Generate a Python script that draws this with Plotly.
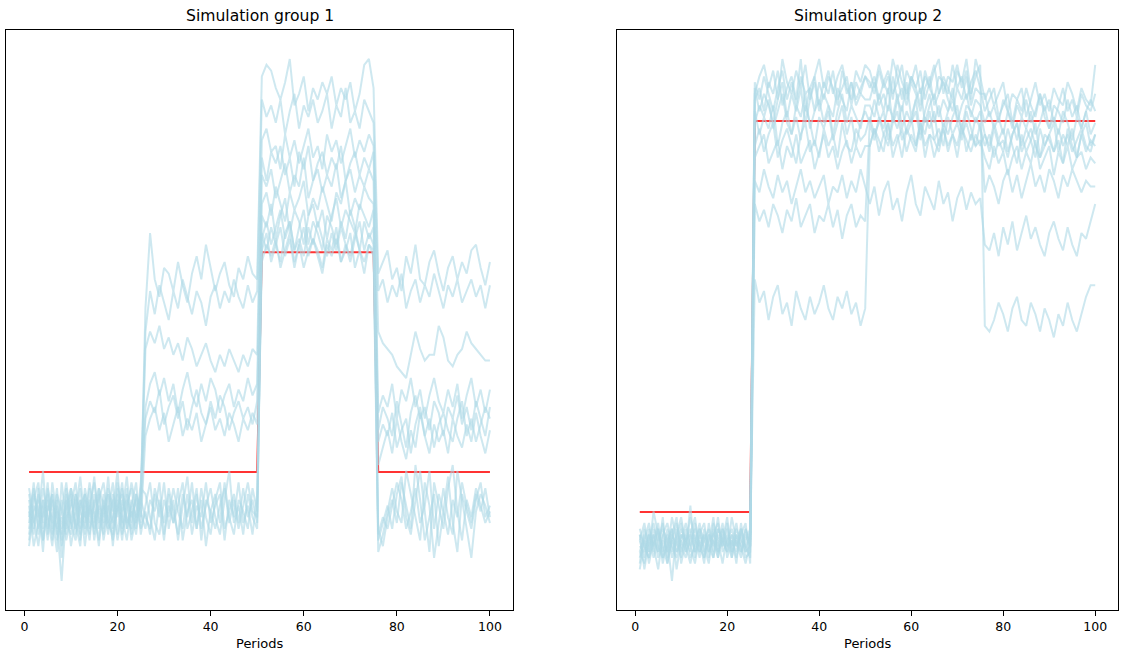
import plotly.graph_objects as go

periods = list(range(1, 101))

# ---------------- Simulation group 1 ----------------
g1_sim01 = [15, 22, 13, 19, 16, 11, 20, 17, 14, 21, 18, 12, 19, 16, 23, 15, 18, 13, 20, 17, 22, 14, 19, 16, 18,
            52, 65, 57, 54, 59, 58, 55, 60, 56, 53, 58, 61, 57, 63, 59, 55, 58, 60, 56, 54, 59, 57, 61, 58, 57,
            92, 94, 93, 90, 88, 91, 95, 87, 89, 92, 86, 90, 88, 91, 89, 92, 87, 90, 88, 91, 86, 89, 94, 95, 90,
            58, 60, 62, 57, 59, 55, 61, 58, 63, 57, 56, 60, 62, 58, 55, 59, 61, 57, 60, 58, 62, 63, 59, 56, 60]
g1_sim02 = [19, 14, 21, 12, 18, 16, 10, 22, 15, 13, 20, 17, 14, 21, 12, 18, 16, 20, 11, 19, 15, 21, 13, 17, 20,
            48, 55, 51, 56, 53, 50, 55, 52, 57, 54, 51, 55, 53, 49, 54, 56, 52, 55, 53, 57, 54, 52, 56, 53, 55,
            88, 85, 87, 84, 88, 82, 86, 89, 83, 87, 85, 88, 84, 86, 89, 83, 87, 85, 90, 84, 86, 83, 88, 86, 84,
            55, 57, 53, 56, 54, 58, 52, 55, 57, 53, 56, 54, 58, 55, 52, 56, 54, 57, 53, 55, 57, 54, 56, 52, 56]
g1_sim03 = [12, 18, 16, 24, 13, 19, 15, 5, 17, 20, 14, 19, 11, 18, 22, 16, 13, 20, 17, 24, 14, 18, 21, 15, 19,
            45, 48, 46, 49, 45, 47, 44, 46, 43, 47, 45, 42, 44, 46, 43, 41, 44, 42, 45, 43, 41, 44, 42, 45, 44,
            81, 83, 79, 80, 76, 82, 78, 81, 77, 80, 83, 78, 80, 76, 82, 79, 81, 77, 80, 83, 78, 81, 79, 82, 80,
            48, 46, 45, 44, 42, 41, 40, 44, 48, 45, 43, 44, 44, 49, 47, 43, 42, 44, 45, 48, 46, 45, 44, 43, 43]
g1_sim04 = [17, 13, 20, 15, 22, 12, 18, 14, 19, 11, 16, 21, 13, 18, 15, 20, 12, 17, 22, 13, 19, 16, 14, 20, 16,
            35, 39, 41, 37, 40, 36, 39, 34, 38, 41, 37, 35, 39, 36, 40, 38, 34, 37, 39, 35, 38, 36, 40, 37, 39,
            78, 74, 79, 77, 80, 75, 78, 73, 79, 76, 80, 74, 77, 79, 75, 78, 76, 80, 74, 77, 79, 75, 78, 76, 79,
            34, 37, 35, 39, 33, 38, 36, 40, 35, 38, 33, 37, 40, 36, 34, 38, 35, 39, 33, 37, 40, 35, 38, 34, 38]
g1_sim05 = [21, 16, 11, 18, 14, 20, 13, 17, 22, 15, 12, 18, 20, 14, 17, 11, 19, 15, 13, 21, 16, 12, 18, 14, 22,
            33, 36, 34, 38, 32, 35, 37, 33, 36, 31, 35, 38, 34, 32, 36, 33, 37, 35, 31, 34, 36, 33, 35, 32, 36,
            75, 73, 76, 71, 74, 77, 72, 75, 73, 78, 71, 74, 76, 72, 75, 73, 77, 71, 74, 76, 72, 75, 73, 76, 74,
            31, 35, 33, 30, 36, 32, 28, 34, 37, 33, 35, 31, 36, 34, 30, 35, 33, 37, 32, 35, 31, 36, 33, 30, 35]
g1_sim06 = [14, 20, 17, 12, 19, 15, 21, 11, 16, 18, 22, 14, 17, 12, 20, 17, 15, 23, 14, 18, 12, 20, 16, 19, 15,
            30, 33, 35, 31, 34, 29, 32, 35, 30, 33, 31, 34, 29, 32, 35, 31, 33, 30, 34, 32, 29, 33, 31, 34, 32,
            70, 72, 68, 73, 70, 67, 72, 69, 71, 74, 68, 71, 69, 73, 70, 67, 72, 70, 74, 68, 71, 69, 73, 71, 70,
            29, 32, 30, 34, 28, 31, 33, 27, 32, 35, 30, 33, 28, 32, 34, 31, 29, 33, 36, 30, 33, 29, 32, 35, 33]
g1_sim07 = [18, 11, 15, 21, 16, 13, 19, 9, 20, 14, 17, 23, 15, 19, 13, 21, 18, 14, 16, 20, 13, 17, 22, 18, 14,
            17, 13, 20, 16, 22, 14, 19, 12, 18, 23, 15, 20, 14, 18, 21, 16, 13, 19, 24, 15, 18, 13, 20, 16, 14,
            68, 66, 70, 64, 68, 71, 65, 69, 67, 63, 68, 70, 66, 69, 64, 68, 71, 66, 69, 67, 65, 70, 68, 66, 69,
            25, 28, 31, 27, 33, 29, 26, 31, 28, 34, 30, 27, 32, 29, 31, 27, 33, 30, 28, 32, 29, 34, 30, 27, 31]
g1_sim08 = [13, 19, 22, 14, 17, 20, 12, 16, 13, 19, 15, 11, 21, 17, 14, 19, 22, 16, 12, 18, 20, 15, 17, 13, 21,
            20, 16, 12, 19, 15, 21, 17, 13, 20, 16, 22, 14, 19, 11, 17, 20, 15, 22, 16, 13, 19, 17, 14, 21, 17,
            64, 67, 63, 66, 69, 64, 67, 62, 66, 69, 63, 67, 65, 62, 68, 66, 63, 67, 64, 69, 66, 62, 67, 64, 66,
            12, 15, 18, 14, 20, 23, 16, 13, 19, 24, 17, 10, 22, 18, 14, 21, 25, 17, 12, 19, 16, 21, 18, 15, 17]
g1_sim09 = [20, 15, 18, 10, 21, 17, 14, 19, 12, 16, 20, 15, 18, 13, 19, 14, 17, 21, 18, 12, 17, 23, 15, 20, 17,
            14, 19, 17, 22, 13, 18, 15, 21, 12, 17, 19, 14, 21, 16, 13, 19, 22, 14, 17, 20, 15, 21, 16, 19, 15,
            65, 62, 66, 63, 60, 65, 67, 62, 64, 61, 66, 63, 67, 64, 61, 65, 62, 66, 63, 60, 64, 67, 62, 65, 63,
            14, 11, 16, 19, 15, 22, 18, 14, 25, 19, 12, 16, 20, 11, 17, 23, 15, 10, 20, 17, 14, 19, 22, 16, 18]
g1_sim10 = [16, 21, 14, 19, 12, 22, 16, 13, 18, 21, 13, 19, 16, 22, 17, 12, 20, 15, 19, 16, 21, 14, 18, 22, 13,
            18, 22, 15, 13, 19, 16, 21, 17, 14, 20, 13, 18, 16, 22, 15, 18, 20, 12, 19, 16, 22, 15, 18, 13, 20,
            60, 63, 61, 64, 59, 62, 65, 60, 63, 59, 62, 64, 61, 58, 63, 61, 64, 60, 62, 65, 59, 62, 60, 63, 61,
            10, 13, 17, 21, 17, 15, 24, 20, 16, 12, 22, 18, 9, 15, 21, 16, 13, 24, 19, 14, 9, 17, 20, 18, 15]
g1_sim11 = [11, 17, 19, 16, 20, 14, 17, 12, 21, 15, 19, 13, 20, 15, 18, 21, 14, 18, 15, 22, 17, 19, 12, 16, 19,
            16, 14, 21, 18, 12, 20, 15, 18, 22, 14, 17, 21, 12, 19, 17, 14, 18, 21, 15, 19, 14, 18, 22, 17, 16,
            62, 65, 60, 63, 66, 61, 64, 59, 63, 66, 61, 64, 62, 59, 64, 62, 66, 60, 63, 61, 65, 62, 58, 63, 62,
            13, 16, 14, 18, 22, 19, 14, 17, 21, 15, 18, 24, 14, 20, 17, 13, 19, 16, 22, 18, 15, 20, 17, 21, 16]

g1_target_x = [1, 50, 51, 75, 76, 100]
g1_target_y = [23.8, 23.8, 61.7, 61.7, 23.8, 23.8]

# ---------------- Simulation group 2 ----------------
g2_sim01 = [10, 13, 8, 12, 15, 9, 11, 14, 7, 12, 10, 18, 9, 13, 11, 8, 14, 10, 12, 16, 9, 13, 11, 8, 12,
            89, 92, 94, 90, 93, 88, 95, 91, 89, 93, 90, 94, 88, 92, 95, 90, 93, 89, 92, 94, 90, 88, 93, 91, 94,
            93, 90, 94, 91, 89, 95, 92, 88, 93, 91, 94, 89, 92, 90, 93, 95, 89, 92, 91, 94, 90, 93, 88, 95, 92,
            88, 90, 87, 89, 91, 86, 89, 88, 90, 85, 88, 91, 87, 89, 86, 90, 88, 87, 91, 89, 86, 90, 88, 87, 94]
g2_sim02 = [12, 9, 14, 11, 7, 13, 10, 16, 12, 9, 14, 11, 8, 13, 15, 10, 12, 9, 14, 11, 13, 8, 15, 10, 13,
            88, 90, 86, 91, 89, 93, 87, 90, 92, 88, 95, 86, 90, 92, 87, 91, 89, 93, 88, 90, 92, 87, 91, 89, 92,
            90, 92, 88, 91, 93, 89, 91, 94, 88, 92, 90, 87, 93, 90, 88, 92, 91, 89, 94, 90, 92, 88, 91, 93, 90,
            86, 88, 90, 85, 87, 89, 84, 88, 86, 90, 87, 85, 89, 86, 88, 84, 87, 90, 86, 88, 85, 89, 87, 86, 89]
g2_sim03 = [8, 14, 11, 13, 10, 16, 8, 12, 15, 11, 9, 13, 16, 10, 12, 14, 9, 13, 11, 15, 10, 12, 9, 14, 11,
            90, 86, 89, 87, 84, 88, 91, 85, 89, 86, 90, 84, 88, 91, 86, 89, 87, 85, 90, 88, 86, 91, 87, 89, 88,
            88, 91, 87, 89, 86, 92, 88, 90, 87, 91, 89, 86, 90, 92, 87, 89, 91, 88, 86, 90, 88, 92, 87, 90, 89,
            89, 85, 87, 84, 88, 86, 83, 87, 85, 88, 84, 86, 89, 85, 83, 87, 86, 84, 88, 85, 87, 83, 86, 88, 86]
g2_sim04 = [13, 7, 12, 15, 11, 9, 14, 10, 13, 16, 11, 8, 12, 14, 9, 13, 11, 16, 10, 12, 14, 11, 13, 9, 10,
            84, 87, 85, 88, 83, 86, 89, 84, 82, 87, 85, 89, 83, 86, 88, 84, 87, 82, 86, 89, 84, 87, 85, 83, 87,
            87, 85, 89, 86, 90, 84, 88, 86, 91, 85, 88, 90, 84, 87, 89, 85, 88, 86, 90, 84, 87, 89, 85, 88, 87,
            84, 86, 83, 85, 82, 86, 84, 81, 85, 83, 86, 82, 84, 87, 83, 85, 82, 86, 84, 81, 85, 83, 86, 82, 84]
g2_sim05 = [9, 12, 10, 17, 13, 11, 8, 13, 11, 14, 12, 10, 15, 11, 13, 9, 15, 12, 8, 13, 11, 15, 10, 12, 14,
            86, 82, 85, 83, 87, 80, 84, 86, 82, 85, 81, 87, 84, 80, 85, 83, 86, 81, 84, 87, 82, 85, 80, 84, 86,
            84, 88, 85, 83, 87, 85, 89, 83, 86, 84, 88, 82, 86, 89, 84, 87, 83, 86, 88, 85, 83, 87, 86, 84, 86,
            82, 80, 84, 81, 83, 79, 82, 84, 80, 83, 81, 78, 83, 80, 82, 84, 79, 82, 80, 83, 78, 82, 84, 80, 82]
g2_sim06 = [11, 10, 13, 9, 12, 14, 12, 5, 14, 10, 13, 9, 11, 15, 10, 12, 13, 11, 15, 9, 12, 10, 14, 11, 9,
            80, 83, 79, 82, 84, 78, 81, 83, 80, 77, 82, 84, 79, 81, 78, 83, 80, 82, 78, 84, 80, 79, 83, 81, 82,
            85, 82, 84, 86, 81, 85, 83, 87, 82, 84, 86, 81, 85, 83, 86, 80, 84, 82, 85, 87, 82, 84, 81, 85, 83,
            80, 82, 78, 81, 79, 83, 80, 77, 82, 79, 81, 84, 78, 80, 82, 79, 81, 77, 83, 80, 78, 82, 79, 81, 80]
g2_sim07 = [14, 11, 9, 12, 10, 13, 15, 11, 9, 13, 12, 14, 10, 12, 8, 15, 10, 14, 12, 10, 16, 12, 10, 13, 11,
            78, 80, 82, 77, 79, 81, 76, 80, 78, 82, 77, 79, 81, 76, 79, 82, 78, 80, 76, 79, 81, 77, 80, 78, 80,
            80, 83, 81, 79, 84, 80, 82, 78, 83, 81, 79, 84, 80, 82, 78, 81, 83, 79, 82, 80, 84, 79, 82, 80, 81,
            78, 76, 80, 77, 79, 75, 78, 80, 76, 79, 77, 81, 76, 78, 80, 75, 79, 77, 80, 76, 78, 79, 76, 78, 77]
g2_sim08 = [7, 12, 15, 10, 14, 8, 12, 14, 10, 12, 15, 11, 13, 9, 14, 11, 16, 9, 13, 11, 12, 9, 13, 15, 8,
            74, 72, 76, 73, 71, 75, 72, 74, 70, 73, 76, 72, 74, 71, 73, 75, 70, 73, 72, 75, 71, 74, 72, 76, 73,
            70, 73, 68, 72, 74, 69, 71, 67, 72, 75, 70, 68, 73, 71, 69, 74, 70, 72, 67, 71, 73, 69, 72, 70, 71,
            63, 62, 65, 61, 66, 63, 67, 62, 65, 68, 64, 66, 63, 61, 65, 67, 64, 62, 66, 63, 61, 65, 64, 67, 70]
g2_sim09 = [12, 15, 10, 13, 9, 12, 10, 13, 16, 8, 12, 13, 10, 14, 12, 10, 13, 15, 11, 14, 10, 14, 12, 11, 13,
            70, 67, 69, 66, 70, 68, 65, 69, 67, 71, 66, 68, 70, 65, 68, 67, 70, 66, 69, 64, 68, 70, 66, 68, 67,
            84, 81, 85, 82, 80, 84, 86, 81, 83, 85, 80, 84, 82, 86, 81, 83, 80, 85, 82, 84, 81, 86, 83, 80, 84,
            72, 75, 73, 70, 74, 76, 72, 75, 71, 74, 77, 73, 75, 72, 76, 74, 71, 75, 73, 76, 74, 72, 74, 73, 73]
g2_sim10 = [10, 8, 13, 11, 14, 10, 13, 9, 12, 15, 10, 12, 14, 11, 9, 13, 12, 10, 14, 12, 9, 13, 11, 14, 12,
            57, 53, 55, 50, 54, 56, 51, 53, 49, 55, 52, 50, 54, 51, 53, 56, 52, 50, 54, 52, 55, 51, 53, 49, 52,
            80, 83, 79, 82, 84, 78, 81, 83, 79, 82, 80, 84, 78, 82, 81, 79, 83, 80, 82, 78, 83, 81, 79, 82, 80,
            82, 79, 83, 80, 81, 78, 82, 84, 79, 81, 83, 80, 78, 82, 81, 79, 83, 80, 82, 79, 81, 83, 80, 79, 82]
g2_sim11 = [13, 11, 9, 14, 12, 15, 9, 12, 10, 13, 11, 16, 12, 10, 13, 11, 9, 14, 12, 10, 13, 11, 14, 10, 11,
            91, 88, 92, 89, 86, 90, 93, 88, 91, 87, 92, 89, 90, 86, 91, 88, 92, 90, 87, 93, 89, 91, 88, 90, 92,
            91, 89, 93, 90, 92, 88, 94, 91, 89, 92, 90, 93, 88, 91, 94, 89, 92, 90, 88, 93, 91, 95, 89, 92, 94,
            49, 48, 50, 53, 51, 48, 52, 54, 50, 49, 53, 51, 48, 52, 50, 47, 51, 49, 53, 50, 48, 51, 54, 56, 56]

g2_target_x = [1, 25, 26, 100]
g2_target_y = [16.9, 16.9, 84.3, 84.3]

tick_vals = [0, 20, 40, 60, 80, 100]
titles = ["Simulation group 1", "Simulation group 2"]
x_label = "Periods"

group1 = [g1_sim01, g1_sim02, g1_sim03, g1_sim04, g1_sim05, g1_sim06,
          g1_sim07, g1_sim08, g1_sim09, g1_sim10, g1_sim11]
group2 = [g2_sim01, g2_sim02, g2_sim03, g2_sim04, g2_sim05, g2_sim06,
          g2_sim07, g2_sim08, g2_sim09, g2_sim10, g2_sim11]

W, H = 1124, 653
BLUE = "rgba(173,216,230,0.6)"
RED = "rgba(255,0,0,0.8)"
FONT = "DejaVu Sans"

fig = go.Figure()

# targets first (blue lines are drawn over them)
fig.add_trace(go.Scatter(x=g1_target_x, y=g1_target_y, mode="lines",
                         line=dict(color=RED, width=2), xaxis="x", yaxis="y"))
fig.add_trace(go.Scatter(x=g2_target_x, y=g2_target_y, mode="lines",
                         line=dict(color=RED, width=2), xaxis="x2", yaxis="y2"))

for s in group1:
    fig.add_trace(go.Scatter(x=periods, y=s, mode="lines",
                             line=dict(color=BLUE, width=2), xaxis="x", yaxis="y"))
for s in group2:
    fig.add_trace(go.Scatter(x=periods, y=s, mode="lines",
                             line=dict(color=BLUE, width=2), xaxis="x2", yaxis="y2"))

dom1 = [6 / W, 513 / W]
dom2 = [617 / W, 1118 / W]
ydom = [(H - 610) / H, (H - 30) / H]

xcommon = dict(range=[-3.95, 104.95], tickvals=tick_vals, ticks="outside", ticklen=5,
               tickwidth=1, tickcolor="#000", showline=True, linecolor="#000", linewidth=1,
               mirror=True, showgrid=False, zeroline=False,
               tickfont=dict(family=FONT, size=12.5, color="#000"))
ycommon = dict(range=[0, 100], showticklabels=False, ticks="", showline=True,
               linecolor="#000", linewidth=1, mirror=True, showgrid=False, zeroline=False,
               domain=ydom)

fig.update_layout(
    width=W, height=H, autosize=False,
    margin=dict(l=0, r=0, t=0, b=0, pad=0),
    paper_bgcolor="white", plot_bgcolor="white",
    showlegend=False,
    xaxis=dict(domain=dom1, anchor="y", **xcommon),
    yaxis=dict(anchor="x", **ycommon),
    xaxis2=dict(domain=dom2, anchor="y2", **xcommon),
    yaxis2=dict(anchor="x2", **ycommon),
)

annotations = []
for dom, t in zip([dom1, dom2], titles):
    cx = (dom[0] + dom[1]) / 2
    annotations.append(dict(text=t, x=cx, y=(H - 16) / H, xref="paper", yref="paper",
                            xanchor="center", yanchor="middle", showarrow=False,
                            font=dict(family=FONT, size=15.6, color="#000")))
    annotations.append(dict(text=x_label, x=cx, y=(H - 643) / H, xref="paper", yref="paper",
                            xanchor="center", yanchor="middle", showarrow=False,
                            font=dict(family=FONT, size=13, color="#000")))
fig.update_layout(annotations=annotations)

fig.write_html("out.html", config={"displayModeBar": False},
               post_script="document.body.style.margin='0';document.body.style.overflow='hidden';")
